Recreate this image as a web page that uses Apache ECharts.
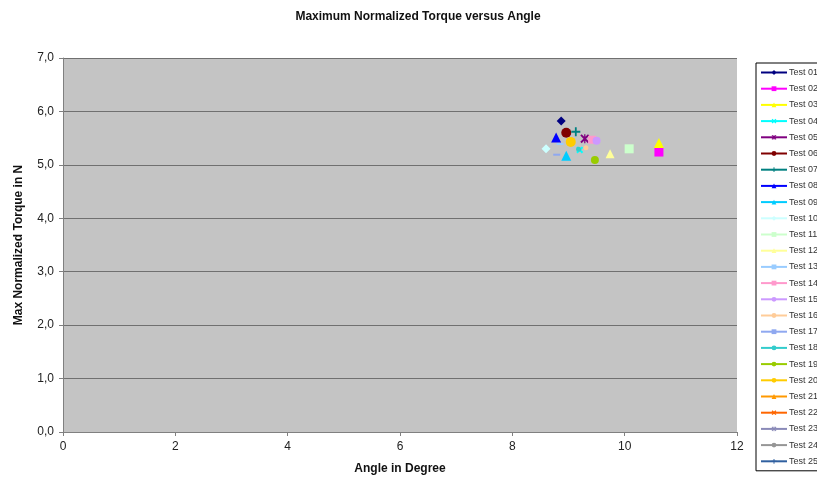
<!DOCTYPE html>
<html><head><meta charset="utf-8">
<script src="https://cdn.jsdelivr.net/npm/echarts@6/dist/echarts.min.js"></script>
<style>html,body{margin:0;padding:0;background:#fff;}#c{width:817px;height:486px;}</style>
</head><body><div id="c"></div>
<script>
const seriesNames = ["Test 01","Test 02","Test 03","Test 04","Test 05","Test 06","Test 07","Test 08","Test 09","Test 10","Test 11","Test 12","Test 13","Test 14","Test 15","Test 16","Test 17","Test 18","Test 19","Test 20","Test 21","Test 22","Test 23","Test 24","Test 25"];
const angles = [8.87,10.61,10.61,9.20,9.29,8.96,9.13,8.78,8.96,8.60,10.08,9.74,8.85,9.42,9.50,9.31,8.79,9.18,9.47,9.04,null,null,null,null,null];
const torques = [5.82,5.24,5.41,5.28,5.49,5.60,5.62,5.51,5.17,5.30,5.30,5.21,5.39,5.47,5.45,5.32,5.19,5.29,5.09,5.43,null,null,null,null,null];
const xTicks = [0,2,4,6,8,10,12];
const yTicks = [0,1,2,3,4,5,6,7];

const colors = ["#000080","#FF00FF","#FFFF00","#00FFFF","#800080","#800000","#008080","#0000FF","#00CCFF","#CCFFFF","#CCFFCC","#FFFF99","#99CCFF","#FF99CC","#CC99FF","#FFCC99","#8FA8F0","#33CCCC","#99CC00","#FFCC00","#FF9900","#FF6600","#8A8AB8","#969696","#3060A0"];
const X = 'path://M0,2L2,0L5,3L8,0L10,2L7,5L10,8L8,10L5,7L2,10L0,8L3,5Z';
const PLUS = 'path://M4,0h2v4h4v2h-4v4h-2v-4h-4v-2h4z';
const STAR = 'path://M0,1.5L1.5,0L5,3.5L8.5,0L10,1.5L6.5,5L10,8.5L8.5,10L5,6.5L1.5,10L0,8.5L3.5,5Z M4.3,0h1.4v10h-1.4z';
const DASH = 'path://M0,0h10v3h-10z';
const symbols = ['diamond','rect','triangle',X,STAR,'circle',PLUS,'triangle','triangle','diamond','rect','triangle',DASH,'rect','circle','circle',DASH,'circle','circle','circle','triangle',X,STAR,'circle',PLUS];
const sizes = [9,9,10,7,9,10,9,10,10,9,9,9,[7,2],8,8,5,[7,2],5,8,10,8,8,8,8,8];

const chart = echarts.init(document.getElementById('c'), null, {renderer:'canvas'});
const fmt = v => v.toFixed(1).replace('.', ',');
const series = seriesNames.map((n,i) => ({
  name: n, type: 'line',
  data: angles[i] == null ? [] : [[angles[i], torques[i]]],
  symbol: symbols[i], symbolSize: sizes[i], showSymbol: true,
  itemStyle: {color: colors[i], opacity: 1},
  lineStyle: {color: colors[i], width: 2},
  emphasis: {disabled: true},
  animation: false
}));

chart.setOption({
  backgroundColor: '#ffffff',
  animation: false,
  title: {text: 'Maximum Normalized Torque versus Angle', left: 413, top: 6, textAlign: 'center',
    textStyle: {fontFamily: 'Liberation Sans, Arial', fontWeight: 'bold', fontSize: 12, color: '#111'}},
  grid: {left: 63, right: 80, top: 58, bottom: 54, show: true, backgroundColor: '#C4C4C4', borderWidth: 0},
  xAxis: {type: 'value', min: xTicks[0], max: xTicks[xTicks.length-1], interval: 2,
    name: 'Angle in Degree', nameLocation: 'middle', nameGap: 31,
    nameTextStyle: {fontFamily: 'Liberation Sans, Arial', fontWeight: 'bold', fontSize: 12, color: '#111'},
    axisLine: {show: true, onZero: false, lineStyle: {color: '#808080', width: 1}},
    axisTick: {show: true, length: 4, lineStyle: {color: '#808080'}},
    axisLabel: {fontFamily: 'Liberation Sans, Arial', fontSize: 12, color: '#222', margin: 9},
    splitLine: {show: false}},
  yAxis: {type: 'value', min: yTicks[0], max: yTicks[yTicks.length-1], interval: 1,
    name: 'Max Normalized Torque in N', nameLocation: 'middle', nameGap: 38,
    nameTextStyle: {fontFamily: 'Liberation Sans, Arial', fontWeight: 'bold', fontSize: 12, color: '#111'},
    axisLine: {show: true, onZero: false, lineStyle: {color: '#808080', width: 1}},
    axisTick: {show: true, length: 4, lineStyle: {color: '#808080'}},
    axisLabel: {fontFamily: 'Liberation Sans, Arial', fontSize: 12, color: '#222', margin: 9, formatter: fmt},
    splitLine: {show: true, lineStyle: {color: '#707070', width: 1}}},
  legend: {orient: 'vertical', left: 756, top: 63, padding: [4, 30, 4, 4],
    borderColor: '#000', borderWidth: 1, backgroundColor: '#fff',
    itemWidth: 26, itemHeight: 6, itemGap: 5.2,
    textStyle: {fontFamily: 'Liberation Sans, Arial', fontSize: 9, lineHeight: 11, color: '#333', padding: [0,0,0,-3]},
    data: seriesNames, selectedMode: false},
  series: series
});
</script></body></html>
